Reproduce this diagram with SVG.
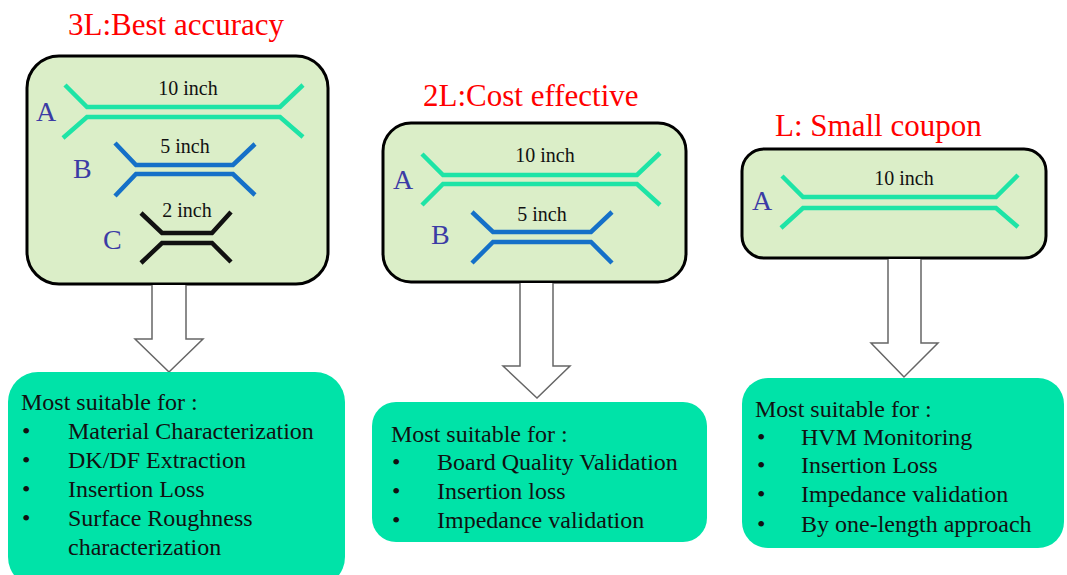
<svg xmlns="http://www.w3.org/2000/svg" width="1067" height="575" viewBox="0 0 1067 575">
<style>
text{font-family:"Liberation Serif","Times New Roman",serif}
.title{font-size:31px;fill:#ff0000}
.card{fill:#dbeec8;stroke:#000;stroke-width:3}
.res{fill:#00e3a8;stroke:none}
.lbl{font-size:28px;fill:#3b3ba5}
.len{font-size:20px;fill:#111;text-anchor:middle}
.body{font-size:24px;fill:#111}
.tA{fill:none;stroke:#1ee4a6;stroke-width:4.5}
.tB{fill:none;stroke:#1570c8;stroke-width:4.5}
.tC{fill:none;stroke:#111;stroke-width:4.5}
.arrow{fill:#fff;stroke:#666;stroke-width:1.5}
</style>
<rect width="1067" height="575" fill="#fff"/>

<g id="coupon-3L">
<text class="title" x="68" y="35">3L:Best accuracy</text>
<rect class="card" x="27" y="56" width="301" height="228" rx="32"/>
<text class="lbl" x="36" y="121">A</text>
<text class="len" x="188" y="95">10 inch</text>
<path class="tA" d="M65 85 L87 107 H280 L303 85 M63 138 L87 117 H280 L303 137"/>
<text class="lbl" x="73" y="178">B</text>
<text class="len" x="185" y="153">5 inch</text>
<path class="tB" d="M115 143 L136 165 H233 L255 144 M115 196 L136 174 H233 L255 195"/>
<text class="lbl" x="103" y="249">C</text>
<text class="len" x="187" y="217">2 inch</text>
<path class="tC" d="M141 213 L162 233 H212 L231 212 M141 263 L162 243 H212 L231 262"/>
</g>

<g id="coupon-2L">
<text class="title" x="423" y="106">2L:Cost effective</text>
<rect class="card" x="383" y="123" width="303" height="159" rx="28"/>
<text class="lbl" x="393" y="189">A</text>
<text class="len" x="545" y="162">10 inch</text>
<path class="tA" d="M422 154 L443 175 H637 L660 153 M422 205 L443 184 H637 L660 205"/>
<text class="lbl" x="431" y="244">B</text>
<text class="len" x="542" y="221">5 inch</text>
<path class="tB" d="M472 212 L493 232 H591 L612 212 M472 263 L493 242 H591 L612 263"/>
</g>

<g id="coupon-L">
<text class="title" x="775" y="136">L: Small coupon</text>
<rect class="card" x="742" y="149" width="304" height="109" rx="22"/>
<text class="lbl" x="752" y="210">A</text>
<text class="len" x="904" y="185">10 inch</text>
<path class="tA" d="M782 176 L803 197 H996 L1018 175 M781 228 L803 208 H996 L1018 227"/>
</g>

<g id="connectors">
<path class="arrow" d="M152 285 V339 H135 L169 372 L203 339 H186 V285"/>
<path class="arrow" d="M520 283 V366 H503 L537 398 L570 366 H553 V283"/>
<path class="arrow" d="M888 259 V343 H871 L904 377 L938 343 H921 V259"/>
</g>

<g id="use-3L">
<rect class="res" x="8" y="372" width="337" height="215" rx="30"/>
<text class="body" x="21" y="410">Most suitable for :</text>
<text class="body" x="22" y="439">•</text><text class="body" x="68" y="439">Material Characterization</text>
<text class="body" x="22" y="468">•</text><text class="body" x="68" y="468">DK/DF Extraction</text>
<text class="body" x="22" y="497">•</text><text class="body" x="68" y="497">Insertion Loss</text>
<text class="body" x="22" y="526">•</text><text class="body" x="68" y="526">Surface Roughness</text>
<text class="body" x="68" y="555">characterization</text>
</g>

<g id="use-2L">
<rect class="res" x="372" y="402" width="335" height="140" rx="24"/>
<text class="body" x="391" y="442">Most suitable for :</text>
<text class="body" x="392" y="470">•</text><text class="body" x="437" y="470">Board Quality Validation</text>
<text class="body" x="392" y="499">•</text><text class="body" x="437" y="499">Insertion loss</text>
<text class="body" x="392" y="528">•</text><text class="body" x="437" y="528">Impedance validation</text>
</g>

<g id="use-L">
<rect class="res" x="742" y="378" width="322" height="170" rx="26"/>
<text class="body" x="755" y="417">Most suitable for :</text>
<text class="body" x="757" y="445">•</text><text class="body" x="801" y="445">HVM Monitoring</text>
<text class="body" x="757" y="473">•</text><text class="body" x="801" y="473">Insertion Loss</text>
<text class="body" x="757" y="502">•</text><text class="body" x="801" y="502">Impedance validation</text>
<text class="body" x="757" y="532">•</text><text class="body" x="801" y="532">By one-length approach</text>
</g>
</svg>
